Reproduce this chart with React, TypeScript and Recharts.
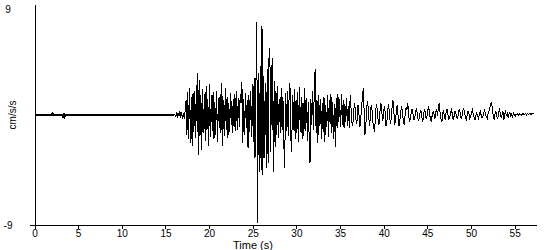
import React from 'react';
import { LineChart, Line, XAxis, YAxis } from 'recharts';

// Pre-event record (quiet), explicit sample times (s) and values (cm/s/s)
const preTimes = [0, 1.9, 2.0, 2.1, 3.1, 3.2, 3.3, 3.4, 3.5, 15.9];
const preValues = [0, 0, 0.12, 0, 0, -0.12, 0.18, -0.12, 0, 0];

// Event record, sampled every 0.1 s starting at 16.0 s
const WAVE_START = 16.0;
const DT = 0.1;
const onset = [0.05, -0.08, 0.1, -0.12, 0.18, -0.1, 0.3, -0.2, 0.25, -0.3, 0.15, -0.35, 0.4];
const strong = [
  1.2, -1.6, 1.9, -2.0, 2.2, -2.3, 1.5, -2.5, 1.8, -1.4,
  2.0, -1.9, 1.2, 3.4, -3.3, 2.9, -1.7, 1.6, -2.9, 2.1,
  -1.5, 1.7, -2.1, 2.4, -1.2, 1.3, -2.5, 2.5, -1.8, 1.6,
  -1.3, 1.9, -2.0, 1.1, -1.6, 2.0, -2.2, 1.4, -1.1, 1.7,
  -1.5, 2.6, -2.5, 1.2, -1.7, 2.2, -1.2, 1.5, -1.9, 1.0,
  -1.4, 1.8, 0.6, -1.5, 1.3, -1.0, 1.7, -1.3, 2.0,
  -1.2, 1.4, -1.0, 1.7, 1.0, 2.7, -2.3, 1.3, -1.6, 1.8,
  -1.1, 1.2, -2.7, 1.6, -1.4, 2.0, -1.8,
];
const peak = [
  2.5, -2.2, 3.0, -3.5, 2.2, 7.6, -8.8, 3.4, -4.7, 4.0,
  -4.5, 7.3, -4.9, 3.2, -3.5, 2.6, -4.3, 3.8, -3.9, 4.6,
  5.5, -3.0, 3.5, 4.7, -4.7, 2.8, -2.6,
];
const late = [
  2.0, -1.6, 2.4, -1.9, 1.3, -1.5, 2.2, -1.2, 1.5, -2.4,
  -4.3, 1.8, -1.3, 2.0, -1.7, 1.4, 2.6, -1.8, -3.0, 1.6,
  -1.2, 2.1, -2.0, 1.2, -1.5, 1.9, -2.2, 2.3, -1.4, 1.5,
  -2.0, 1.0, -1.7, 2.2, -1.3, 1.4, -2.1, 1.1, -1.8, -3.9,
  1.3, -0.8, 2.0, -1.2, 2.6, 3.8, -1.5, 1.2, -2.3, 1.6,
  -0.9, 1.3, -2.0, 1.0, -1.4, 1.5, -2.2, 0.8, -1.0, 1.6,
  -1.8, 1.2, -0.7, 1.7, -1.5, 1.1, -2.0, 0.9, -2.6, 1.4,
  -1.1, 1.7, -0.6, 1.3, -1.0, 1.7, -0.8, 1.2, -1.1, 0.9,
  -0.6, 1.4, -0.9, 0.7, -1.1,
];
const coda = [
  1.6, 0.5, -0.6, -0.9, 0.3, 1.0, 0.4, -0.7, -0.4, 0.8,
  0.2, -1.0, -0.5, 0.6, 1.4, 2.2, 0.3, -1.6, -0.8, 0.7,
  1.1, 0.2, -0.9, -0.3, 0.8, 0.4, -0.6, -1.0, -1.4, 0.1,
  0.9, 0.5, -0.4, -0.8, 0.2, 1.0, 0.6, -0.5, -0.2, 0.7,
  0.3, -0.9, -0.6, 0.4, 0.9, 0.1, -0.7, -0.3, 0.6, 1.2,
  0.3, -0.8, -0.5, 0.5, 0.8, -0.2, -0.9, -0.4, 0.3, 0.7,
  0.2, -0.6, -0.8, 0.1, 0.6, 0.4, 1.0, 0.0, -0.6, -0.3,
];
const tail = [
  0.2, 0.5, 0.1, -0.4, -0.2, 0.3, 0.6, 0.0, -0.5, -0.3,
  0.2, 0.4, -0.1, -0.6, -0.2, 0.5, 0.3, -0.3, -0.1, 0.4,
  0.7, 0.1, -0.4, -0.5, 0.0, 0.3, 0.1, -0.3, 0.2, 0.5,
  -0.1, 0.6, 1.0, 0.2, -0.3, -0.6, 0.1, 0.4, -0.2, -0.4,
  0.3, 0.5, 0.0, -0.3, -0.2, 0.2, 0.4, 0.1, -0.4, -0.1,
  0.3, 0.2, -0.2, -0.3, 0.1, 0.5, 0.2, -0.3, -0.1, 0.3,
  0.6, 0.2, -0.2, -0.4, 0.0, 0.3, 0.1, -0.3, -0.2, 0.2,
  0.4, 0.1, -0.2, -0.4, 0.0, 0.2, -0.1, -0.3, 0.1, 0.3,
  0.0, -0.2, -0.1, 0.2, 0.4, 0.1, -0.2, -0.3, 0.1, 0.3,
];
const fade = [
  0.6, 0.9, 1.0, 0.5, -0.2, -0.4, 0.1, 0.3, -0.1, -0.3,
  0.2, 0.4, 0.1, -0.2, 0.0, 0.3, -0.4, 0.1, 0.3, -0.1,
  0.2, -0.2, 0.1, 0.2, -0.1, 0.1, -0.2, 0.15, 0.05, -0.1,
  0.1, 0.0, 0.1, -0.05, 0.1, 0.05, -0.05, 0.1, 0.0, 0.1,
  0.05, 0.1, 0.0, 0.1, 0.05, 0.1, 0.1, 0.05, 0.1, 0.1,
  0.1, 0.1,
];

const xTicks = [0, 5, 10, 15, 20, 25, 30, 35, 40, 45, 50, 55];
const yTicks = [-9, 9];

type Row = { t: number; pre?: number; acc?: number };
const rows: Row[] = [];
preTimes.forEach((t, i) => rows.push({ t, pre: preValues[i] }));
[...onset, ...strong, ...peak, ...late, ...coda, ...tail, ...fade].forEach((v, i) =>
  rows.push({ t: Math.round((WAVE_START + i * DT) * 100) / 100, acc: v })
);

const FONT = '"Liberation Sans", Arial, sans-serif';

const YTick = (props: any) => {
  const { y, payload } = props;
  return (
    <g>
      {payload.value === -9 && (
        <line x1={30} x2={35} y1={y} y2={y} stroke="#000" shapeRendering="crispEdges" />
      )}
      <text x={8} y={y} dy="0.35em" textAnchor="middle" fontSize={10} fontFamily={FONT} fill="#000">
        {payload.value}
      </text>
    </g>
  );
};

export default function App() {
  return (
    <div style={{ position: 'absolute', left: 0, top: 0, background: '#fff' }}>
      <LineChart width={550} height={250} data={rows} margin={{ top: 5, right: 13, bottom: 0, left: 0 }}>
        <XAxis
          dataKey="t"
          type="number"
          domain={[0, 57.5]}
          ticks={xTicks}
          allowDataOverflow
          tickSize={4}
          tickMargin={1}
          stroke="#000"
          tick={{ fill: '#000', fontSize: 10, fontFamily: FONT }}
          height={25}
          shapeRendering="crispEdges"
          label={{ value: 'Time (s)', position: 'insideBottom', offset: 1, dx: -33, fill: '#000', fontSize: 11, fontFamily: FONT }}
        />
        <YAxis
          type="number"
          domain={[-9, 9]}
          ticks={yTicks}
          allowDataOverflow
          width={35}
          stroke="#000"
          tickLine={false}
          tick={<YTick />}
          shapeRendering="crispEdges"
          label={{ value: 'cm/s/s', angle: -90, position: 'insideLeft', offset: 12, style: { textAnchor: 'middle' }, fill: '#000', fontSize: 10, fontFamily: FONT }}
        />
        <Line dataKey="pre" stroke="#000" strokeWidth={2} dot={false} isAnimationActive={false} type="linear" shapeRendering="crispEdges" />
        <Line dataKey="acc" stroke="#000" strokeWidth={1} dot={false} isAnimationActive={false} type="linear" shapeRendering="crispEdges" />
      </LineChart>
    </div>
  );
}
